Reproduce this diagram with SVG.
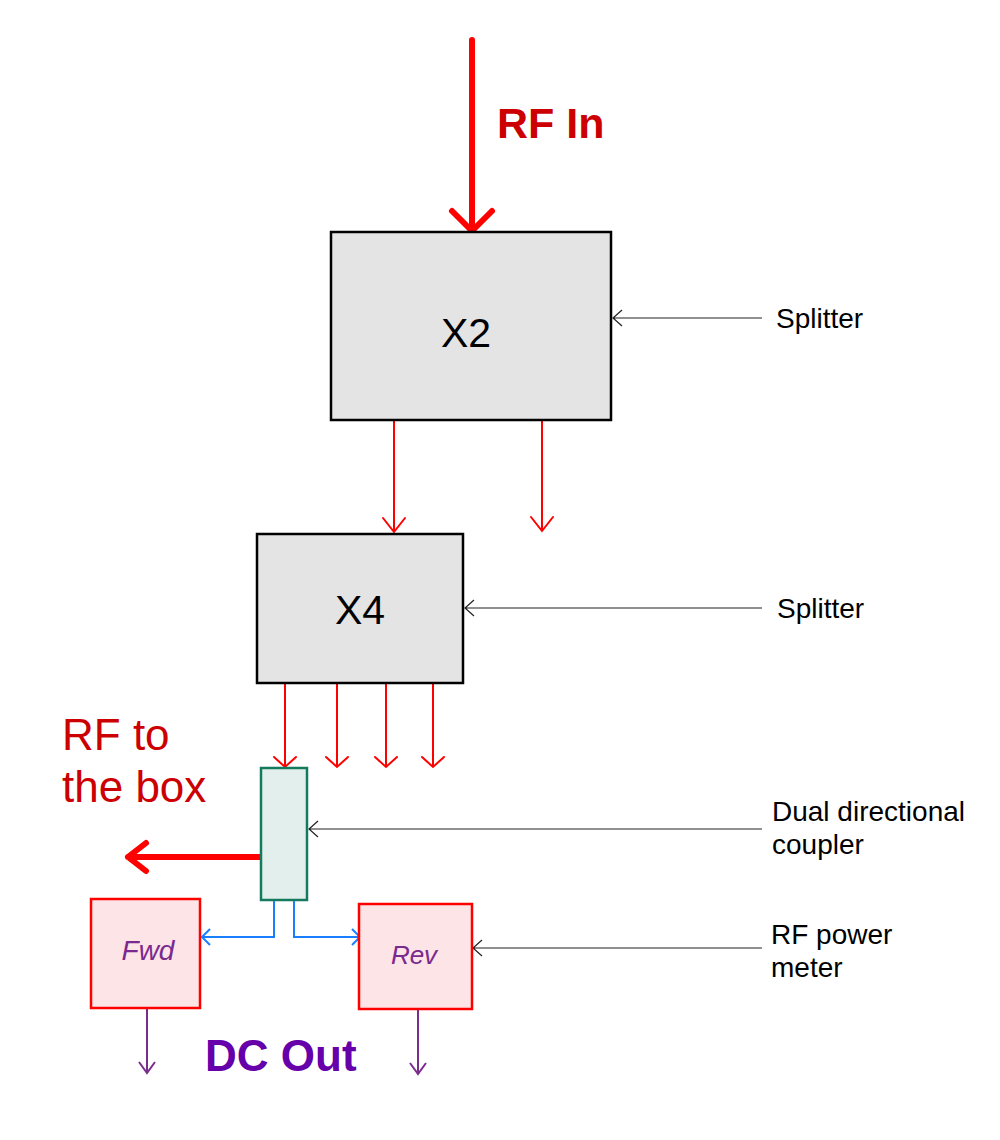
<svg xmlns="http://www.w3.org/2000/svg" width="1000" height="1140" viewBox="0 0 1000 1140">
<style>
.box{fill:#e4e4e4;stroke:#000;stroke-width:2.5}
.cpl{fill:#e3efec;stroke:#147a5e;stroke-width:2.5}
.pm{fill:#fde4e6;stroke:#ff0000;stroke-width:2.5}
.big{font-family:"Liberation Sans",Arial,sans-serif;font-size:41px;fill:#000}
.lbl{font-family:"Liberation Sans",Arial,sans-serif;font-size:28px;fill:#000}
.pmt{font-family:"Liberation Sans",Arial,sans-serif;font-size:26px;font-style:italic;fill:#7a2a8f}
.red{fill:none;stroke:#ff0000;stroke-width:2;stroke-linecap:round}
.thick{fill:none;stroke:#ff0000;stroke-width:6;stroke-linecap:round;stroke-linejoin:round}
.lead{fill:none;stroke:#222;stroke-width:1.2}
.blue{fill:none;stroke:#1a7fff;stroke-width:2}
.pur{fill:none;stroke:#7b2d8e;stroke-width:2}
</style>
<rect width="1000" height="1140" fill="#fff"/>
<g id="connectors">
<path class="thick" d="M472 40V229M452 211L472 231L492 211"/>
<path class="thick" d="M260 857H128M146 843L128 857L146 871"/>
<path class="red" d="M394 421V532M383 518L394 532L405 518"/>
<path class="red" d="M542 421V531M531 517L542 531L553 517"/>
<path class="red" d="M285 684V767M274 757L285 767L296 757"/>
<path class="red" d="M337 684V767M326 757L337 767L348 757"/>
<path class="red" d="M386 684V767M375 757L386 767L397 757"/>
<path class="red" d="M433 684V767M422 757L433 767L444 757"/>
<path class="lead" d="M762 318H613M622 310L613 318L622 326"/>
<path class="lead" d="M762 608H465M474 600L465 608L474 616"/>
<path class="lead" d="M762 829H309M318 821L309 829L318 837"/>
<path class="lead" d="M762 948H473M482 940L473 948L482 956"/>
<path class="blue" d="M274 901V937H203M210 929L202 937L210 945"/>
<path class="blue" d="M294 901V937H359M352 929L360 937L352 945"/>
<path class="pur" d="M147 1009V1073M139 1062L147 1073L155 1062"/>
<path class="pur" d="M418 1010V1074M410 1063L418 1074L426 1063"/>
</g>
<g id="x2">
<rect class="box" x="331" y="232" width="280" height="188"/>
<text class="big" x="466" y="347" text-anchor="middle">X2</text>
</g>
<g id="x4">
<rect class="box" x="257" y="534" width="206" height="149"/>
<text class="big" x="360" y="624" text-anchor="middle">X4</text>
</g>
<g id="coupler">
<rect class="cpl" x="261" y="768" width="46" height="132"/>
</g>
<g id="fwd">
<rect class="pm" x="91" y="899" width="109" height="109"/>
<text class="pmt" x="148" y="960" text-anchor="middle" style="font-size:28px">Fwd</text>
</g>
<g id="rev">
<rect class="pm" x="359" y="904" width="113" height="105"/>
<text class="pmt" x="414" y="964" text-anchor="middle">Rev</text>
</g>
<g id="labels">
<text x="497" y="138" style="font-family:'Liberation Sans',Arial,sans-serif;font-size:43px;font-weight:bold;fill:#cc0000">RF In</text>
<text x="62" y="750" style="font-family:'Liberation Sans',Arial,sans-serif;font-size:44px;fill:#cc0000">RF to</text>
<text x="62" y="802" style="font-family:'Liberation Sans',Arial,sans-serif;font-size:44px;fill:#cc0000">the box</text>
<text x="205" y="1071" style="font-family:'Liberation Sans',Arial,sans-serif;font-size:44px;font-weight:bold;fill:#6600aa">DC Out</text>
<text class="lbl" x="776" y="328">Splitter</text>
<text class="lbl" x="777" y="618">Splitter</text>
<text class="lbl" x="772" y="821">Dual directional</text>
<text class="lbl" x="772" y="854">coupler</text>
<text class="lbl" x="771" y="944">RF power</text>
<text class="lbl" x="771" y="977">meter</text>
</g>
</svg>
